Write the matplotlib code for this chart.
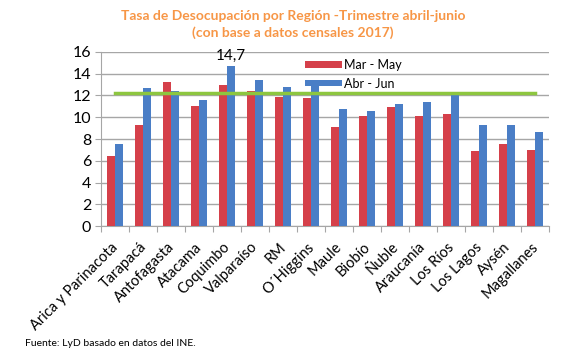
import matplotlib
matplotlib.use("Agg")
import matplotlib.pyplot as plt
import matplotlib.transforms as mtransforms
import numpy as np

regions = ["Arica y Parinacota", "Tarapacá", "Antofagasta", "Atacama", "Coquimbo",
           "Valparaíso", "RM", "O´Higgins", "Maule", "Biobío", "Ñuble", "Araucanía",
           "Los Ríos", "Los Lagos", "Aysén", "Magallanes"]
mar_may = [6.4, 9.3, 13.2, 11.0, 13.0, 12.4, 11.9, 11.8, 9.1, 10.1, 10.9, 10.1, 10.3, 6.9, 7.5, 7.0]
abr_jun = [7.5, 12.7, 12.4, 11.6, 14.7, 13.4, 12.8, 13.1, 10.8, 10.6, 11.2, 11.4, 12.2, 9.3, 9.3, 8.6]
national = [12.2] * len(regions)
yticks = [0, 2, 4, 6, 8, 10, 12, 14, 16]

plt.rcParams['font.family'] = ['Lato', 'DejaVu Sans']

fig = plt.figure(figsize=(5.67, 3.63), dpi=100)
ax = fig.add_axes([0.178, 0.377, 0.790, 0.480])

x = np.arange(len(regions))
w = 0.29
red = '#D5404A'
blue = '#4A7EC6'
green = '#8DC63F'
ax.bar(x - w/2, mar_may, w, color=red, label='Mar - May', zorder=3)
ax.bar(x + w/2, abr_jun, w, color=blue, label='Abr - Jun', zorder=3)
ax.plot(x, national, color=green, lw=2.5, zorder=4)

i = abr_jun.index(max(abr_jun))
ax.annotate(f"{abr_jun[i]:.1f}".replace('.', ','), (x[i] + w/2, abr_jun[i]),
            xytext=(0, 2), textcoords='offset points', ha='center', va='bottom',
            fontsize=11)

ax.set_xlim(-0.5, len(regions) - 0.5)
ax.set_ylim(0, 16)
ax.set_yticks(yticks)
ax.set_yticklabels([str(t) for t in yticks], fontsize=11.5)
ax.yaxis.grid(True, color='#A6A6A6', lw=1, zorder=0)
ax.set_axisbelow(True)
for s in ['top', 'right']:
    ax.spines[s].set_visible(False)
for s in ['left', 'bottom']:
    ax.spines[s].set_color('#A6A6A6')
ax.tick_params(axis='y', length=4, color='#A6A6A6', pad=3)
ax.set_xticks(np.arange(-0.5, len(regions)), minor=False)
ax.set_xticklabels([])
ax.tick_params(axis='x', length=4, color='#A6A6A6')
ax.set_xticks(x, minor=True)
ax.set_xticklabels(regions, minor=True, rotation=45, ha='right',
                   rotation_mode='anchor', fontsize=10.5)
ax.tick_params(axis='x', which='minor', length=0, pad=10)
offset = mtransforms.ScaledTranslation(-0.04, 0, fig.dpi_scale_trans)
for lab in ax.get_xticklabels(minor=True):
    lab.set_transform(lab.get_transform() + offset)

leg = ax.legend(loc='upper left', bbox_to_anchor=(0.444, 0.99), frameon=False,
                fontsize=9, handlelength=3.0, handleheight=0.45,
                handletextpad=0.15, labelspacing=0.55, borderaxespad=0)

fig.text(0.517, 0.957, "Tasa de Desocupación por Región -Trimestre abril-junio",
         ha='center', va='center', color='#F79646', fontsize=10, fontweight='bold')
fig.text(0.517, 0.910, "(con base a datos censales 2017)",
         ha='center', va='center', color='#F79646', fontsize=10, fontweight='bold')
fig.text(0.044, 0.055, "Fuente: LyD basado en datos del INE.", ha='left', va='center',
         fontsize=7.5)

fig.savefig("out.png", dpi=100)
